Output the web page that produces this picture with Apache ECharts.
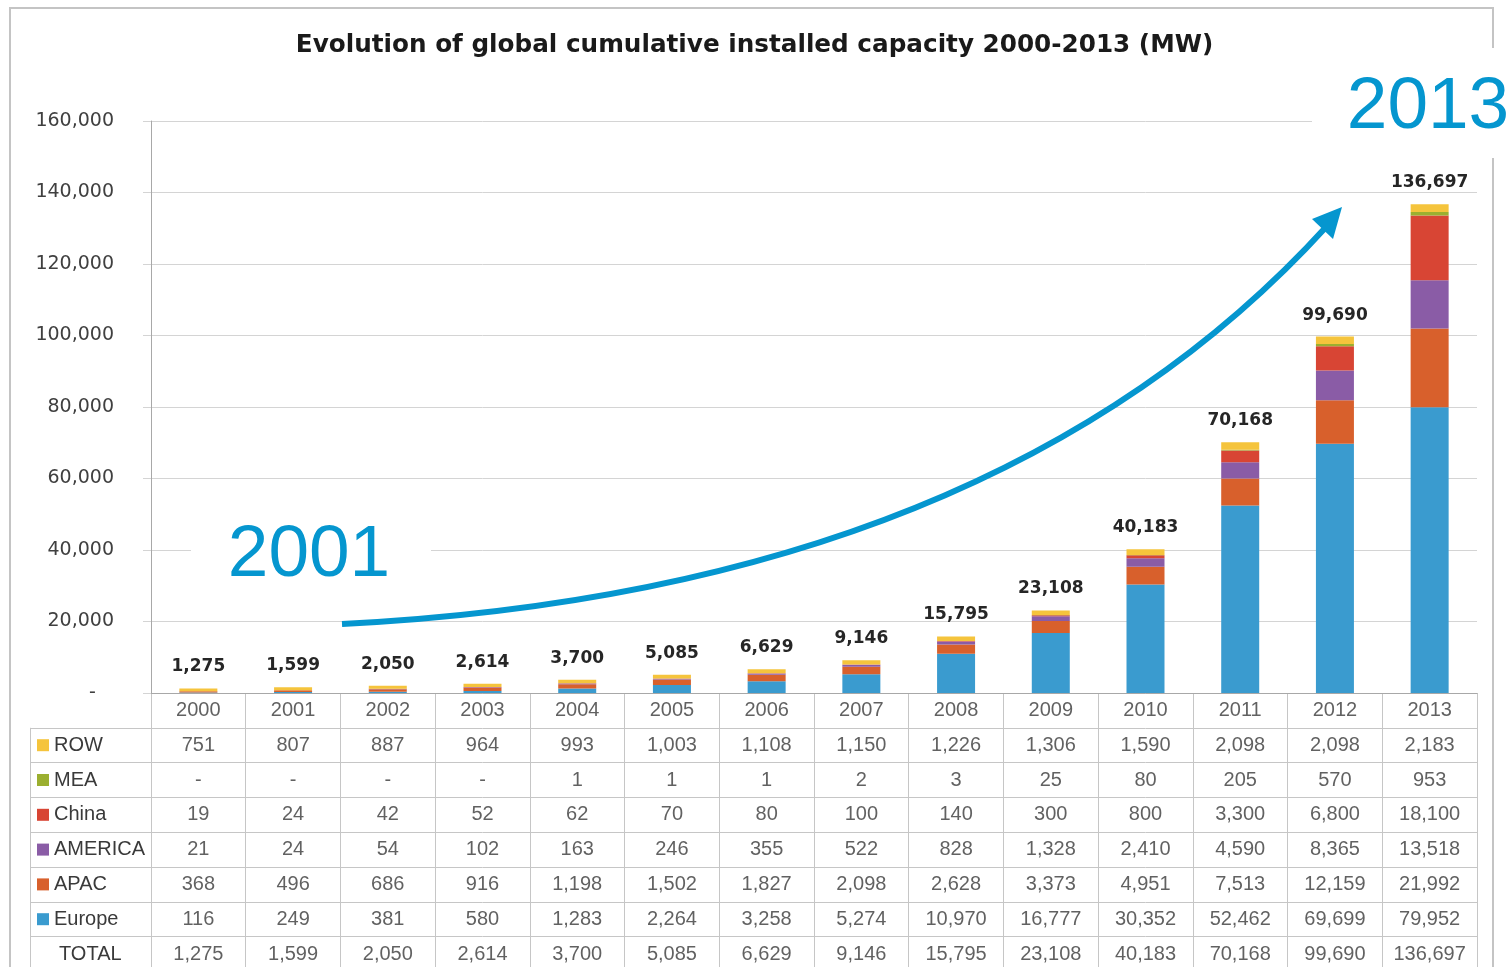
<!DOCTYPE html>
<html>
<head>
<meta charset="utf-8">
<script src="https://cdn.jsdelivr.net/npm/echarts@6.0.0/dist/echarts.min.js"></script>
<style>
  html, body { margin: 0; padding: 0; background: #fff; }
  #chart { width: 1509px; height: 967px; }
</style>
</head>
<body>
<div id="chart"></div>
<script>
// data (MW, cumulative)
var years = ['2000', '2001', '2002', '2003', '2004', '2005', '2006', '2007', '2008', '2009', '2010', '2011', '2012', '2013']
var europe = [116, 249, 381, 580, 1283, 2264, 3258, 5274, 10970, 16777, 30352, 52462, 69699, 79952]
var apac = [368, 496, 686, 916, 1198, 1502, 1827, 2098, 2628, 3373, 4951, 7513, 12159, 21992]
var america = [21, 24, 54, 102, 163, 246, 355, 522, 828, 1328, 2410, 4590, 8365, 13518]
var china = [19, 24, 42, 52, 62, 70, 80, 100, 140, 300, 800, 3300, 6800, 18100]
var mea = [0, 0, 0, 0, 1, 1, 1, 2, 3, 25, 80, 205, 570, 953]
var row = [751, 807, 887, 964, 993, 1003, 1108, 1150, 1226, 1306, 1590, 2098, 2098, 2183]
var total = [1275, 1599, 2050, 2614, 3700, 5085, 6629, 9146, 15795, 23108, 40183, 70168, 99690, 136697]
var yTicks = [0, 20000, 40000, 60000, 80000, 100000, 120000, 140000, 160000]

var colors = {
  Europe: '#3a9bcf',
  APAC: '#d8602c',
  AMERICA: '#8a5ca6',
  China: '#d84534',
  MEA: '#9baf30',
  ROW: '#f5c43c'
}

// table rows, top to bottom
var tableNames = ['ROW', 'MEA', 'China', 'AMERICA', 'APAC', 'Europe', 'TOTAL']
var tableRows = [row, mea, china, america, apac, europe, total]

function fmt(v) {
  return v === 0 ? '-' : v.toLocaleString('en-US')
}

var rowH = 34.8
var gridColor = '#d4d4d4'
var tableLine = '#c6c6c6'
var textColor = '#3a3a3a'

// stacked bars, bottom to top
var stackOrder = [
  ['Europe', europe], ['APAC', apac], ['AMERICA', america],
  ['China', china], ['MEA', mea], ['ROW', row]
]
var series = stackOrder.map(function (s, k) {
  var item = {
    name: s[0],
    type: 'bar',
    stack: 'cap',
    barWidth: 38,
    xAxisIndex: 0,
    yAxisIndex: 0,
    data: s[1],
    itemStyle: { color: colors[s[0]] },
    silent: true
  }
  if (k === stackOrder.length - 1) {
    item.label = {
      show: true,
      position: 'top',
      distance: 13,
      fontFamily: 'DejaVu Sans',
      fontWeight: 'bold',
      fontSize: 17,
      color: '#262626',
      formatter: function (p) { return fmt(total[p.dataIndex]) }
    }
  }
  return item
})

// table cells as text points on the table grid
var cells = []
years.forEach(function (y, i) { cells.push([i, 0]) })
tableRows.forEach(function (r, j) {
  r.forEach(function (v, i) { cells.push([i, j + 1]) })
})
series.push({
  type: 'scatter',
  xAxisIndex: 1,
  yAxisIndex: 1,
  symbolSize: 0,
  silent: true,
  data: cells,
  label: {
    show: true,
    position: 'inside',
    fontFamily: 'Liberation Sans',
    fontSize: 20,
    color: textColor,
    formatter: function (p) {
      var i = p.value[0], j = p.value[1]
      return j === 0 ? years[i] : fmt(tableRows[j - 1][i])
    }
  }
})

var rich = { t: { fontFamily: 'Liberation Sans', fontSize: 20, color: textColor, padding: [0, 0, 0, 5] },
  tt: { fontFamily: 'Liberation Sans', fontSize: 20, color: textColor, padding: [0, 0, 0, 22] } }
tableNames.forEach(function (n, k) {
  if (colors[n]) rich['s' + k] = { width: 12, height: 12, backgroundColor: colors[n] }
})

var chart = echarts.init(document.getElementById('chart'))
chart.setOption({
  animation: false,
  backgroundColor: '#fff',
  title: {
    text: 'Evolution of global cumulative installed capacity 2000-2013 (MW)',
    left: 'center',
    top: 28,
    textStyle: { fontFamily: 'DejaVu Sans', fontWeight: 'bold', fontSize: 24.7, color: '#1a1a1a' }
  },
  grid: [
    { left: 151, right: 32, top: 121, height: 572, outerBoundsMode: 'none' },
    { left: 151, right: 32, top: 693, height: rowH * 8, outerBoundsMode: 'none' },
    { left: 30, width: 121, top: 693 + rowH, height: rowH * 7, outerBoundsMode: 'none' }
  ],
  xAxis: [
    {
      gridIndex: 0, type: 'category', data: years,
      axisLine: { show: true, lineStyle: { color: '#a8a8a8', width: 1 } },
      axisTick: { show: false }, axisLabel: { show: false }
    },
    {
      gridIndex: 1, type: 'category', data: years,
      axisLine: { show: false }, axisTick: { show: false }, axisLabel: { show: false },
      splitLine: { show: true, interval: 0, lineStyle: { color: tableLine } }
    },
    {
      gridIndex: 2, type: 'category', data: [''],
      axisLine: { show: false }, axisTick: { show: false }, axisLabel: { show: false },
      splitLine: { show: true, interval: 0, lineStyle: { color: tableLine } }
    }
  ],
  yAxis: [
    {
      gridIndex: 0, type: 'value', min: yTicks[0], max: yTicks[yTicks.length - 1], interval: 20000,
      axisLine: { show: true, lineStyle: { color: '#a8a8a8' } },
      axisTick: { show: true, length: 8, lineStyle: { color: gridColor } },
      splitLine: { lineStyle: { color: gridColor } },
      axisLabel: {
        margin: 37,
        fontFamily: 'DejaVu Sans',
        fontSize: 19,
        color: '#404040',
        formatter: function (v) { return v === 0 ? '-   ' : v.toLocaleString('en-US') }
      }
    },
    {
      gridIndex: 1, type: 'category', inverse: true, data: [''].concat(tableNames),
      axisLine: { show: false }, axisTick: { show: false }, axisLabel: { show: false },
      splitLine: { show: true, interval: 0, lineStyle: { color: tableLine } }
    },
    {
      gridIndex: 2, type: 'category', inverse: true, data: tableNames,
      axisLine: { show: false }, axisTick: { show: false },
      splitLine: { show: true, interval: 0, lineStyle: { color: tableLine } },
      axisLabel: {
        inside: true,
        margin: 7,
        align: 'left',
        formatter: function (v, k) {
          return colors[v] ? '{s' + k + '|}{t|' + v + '}' : '{tt|' + v + '}'
        },
        rich: rich
      }
    }
  ],
  series: series,
  graphic: [
    {
      type: 'rect', z: -1, silent: true,
      shape: { x: 10, y: 8, width: 1483, height: 980 },
      style: { fill: 'none', stroke: '#c4c4c4', lineWidth: 2 }
    },
    {
      type: 'rect', z: 100, silent: true,
      shape: { x: 191, y: 505, width: 240, height: 95 },
      style: { fill: '#fff' }
    },
    {
      type: 'text', z: 101, silent: true, x: 309, y: 556,
      style: { text: '2001', fill: '#0596cf', font: '73px "Liberation Sans"', align: 'center', verticalAlign: 'middle' }
    },
    {
      type: 'rect', z: 100, silent: true,
      shape: { x: 1312, y: 48, width: 197, height: 110 },
      style: { fill: '#fff' }
    },
    {
      type: 'text', z: 101, silent: true, x: 1428, y: 108,
      style: { text: '2013', fill: '#0596cf', font: '73px "Liberation Sans"', align: 'center', verticalAlign: 'middle' }
    },
    {
      type: 'bezierCurve', z: 101, silent: true,
      shape: { x1: 342, y1: 624, cpx1: 995, cpy1: 591, x2: 1327, y2: 226 },
      style: { stroke: '#0596cf', lineWidth: 6, fill: 'none' }
    },
    {
      type: 'polygon', z: 101, silent: true,
      shape: { points: [[1342, 207], [1333, 239], [1312, 219]] },
      style: { fill: '#0596cf' }
    }
  ]
})
</script>
</body>
</html>
